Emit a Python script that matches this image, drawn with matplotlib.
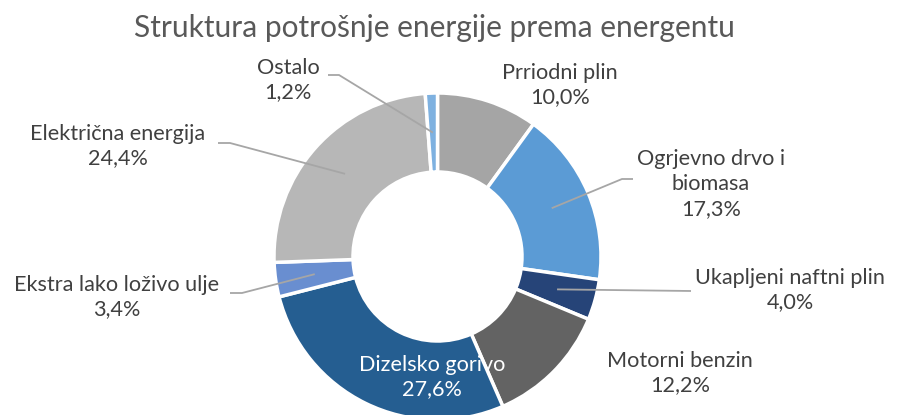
import numpy as np
import matplotlib.pyplot as plt

plt.rcParams['font.family'] = ['Lato', 'DejaVu Sans']

# energy consumption shares by source (%)
sources = ["Prriodni plin", "Ogrjevno drvo i\nbiomasa", "Ukapljeni naftni plin",
           "Motorni benzin", "Dizelsko gorivo", "Ekstra lako loživo ulje",
           "Električna energija", "Ostalo"]
shares = [10.0, 17.3, 4.0, 12.2, 27.6, 3.4, 24.4, 1.2]
colors = ["#a5a5a5", "#5b9bd5", "#264478", "#636363",
          "#255e91", "#698ed0", "#b7b7b7", "#7eb1e0"]

W, H = 899, 415
fig = plt.figure(figsize=(W / 100, H / 100), dpi=100)
ax = fig.add_axes([0, 0, 1, 1])

cx, cy = 437.5, H - 256.5
r_out, r_in = 163.5, 84.5
wedges, _ = ax.pie(shares, colors=colors, startangle=90, counterclock=False,
                   radius=r_out, center=(cx, cy),
                   wedgeprops=dict(width=r_out - r_in, edgecolor="white", linewidth=2.5))
ax.set_xlim(0, W)
ax.set_ylim(0, H)
ax.set_aspect("equal")
ax.axis("off")

txt = "#404040"
line_c = "#a6a6a6"
fs = 15.6

# label centre (x, y from top) and leader elbow points (None = no leader)
layout = {
    0: ((560, 85), None),
    1: ((711, 184), [(633, 179), (622, 179)]),
    2: ((790, 290), [(691, 291)]),
    3: ((680, 373), None),
    4: ((432, 377), None),
    5: ((117, 297), [(230, 293), (242, 293)]),
    6: ((118, 146), [(218, 143), (230, 143)]),
    7: ((288, 80), [(328, 75), (339, 75)]),
}

total = sum(shares)
r_mid = (r_out + r_in) / 2
for i, (name, val) in enumerate(zip(sources, shares)):
    (lx, ly), elbow = layout[i]
    label = f"{name}\n{val:.1f}%".replace(".", ",")
    color = "white" if i == 4 else txt
    ax.text(lx, H - ly, label, ha="center", va="center", fontsize=fs,
            color=color, linespacing=1.3)
    if elbow:
        w = wedges[i]
        ang = np.deg2rad((w.theta1 + w.theta2) / 2)
        ax_, ay_ = cx + r_mid * np.cos(ang), cy + r_mid * np.sin(ang)
        xs = [p[0] for p in elbow] + [ax_]
        ys = [H - p[1] for p in elbow] + [ay_]
        ax.plot(xs, ys, color=line_c, lw=1.3, solid_capstyle="butt")

ax.text(434, H - 28, "Struktura potrošnje energije prema energentu",
        ha="center", va="center", fontsize=21.5, color="#595959")

fig.savefig("out.png", dpi=100)
